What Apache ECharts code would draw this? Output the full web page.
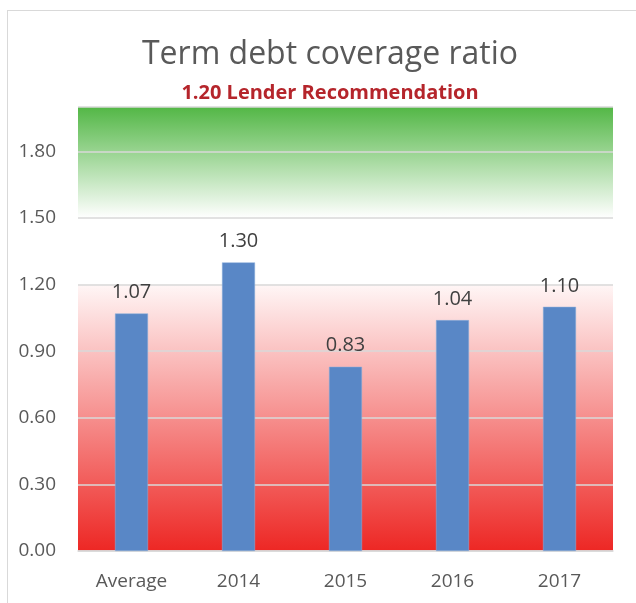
<!DOCTYPE html>
<html>
<head>
<meta charset="utf-8">
<script src="https://cdn.jsdelivr.net/npm/echarts@6/dist/echarts.min.js"></script>
<style>
  html, body { margin: 0; padding: 0; background: #fff; }
  #frame { position: absolute; left: 7px; top: 10px; width: 700px; height: 700px; border: 1px solid #d9d9d9; }
  #chart { position: absolute; left: 0; top: 0; width: 636px; height: 603px; }
</style>
</head>
<body>
<div id="frame"></div>
<div id="chart"></div>
<script>
const categories = ["Average", "2014", "2015", "2016", "2017"];
const ratios = [1.07, 1.30, 0.83, 1.04, 1.10];
const greenZone = [1.5, 2.0];
const redZone = [0, 1.2];

const font = "'Open Sans', 'Liberation Sans', sans-serif";

const option = {
  animation: false,
  title: {
    text: "Term debt coverage ratio",
    subtext: "1.20 Lender Recommendation",
    left: 325,
    textAlign: "center",
    top: 34,
    itemGap: 12,
    textStyle: { fontFamily: font, fontSize: 32, fontWeight: "normal", color: "#595959" },
    subtextStyle: { fontFamily: font, fontSize: 20, fontWeight: "bold", color: "#b5252b" },
  },
  grid: { left: 78, right: 23, top: 107, bottom: 52, containLabel: false },
  xAxis: {
    type: "category",
    data: categories,
    axisTick: { show: false },
    axisLine: { lineStyle: { color: "#d9d9d9", width: 1.5 } },
    axisLabel: { fontFamily: font, fontSize: 19, color: "#595959", margin: 21 },
  },
  yAxis: {
    type: "value",
    min: 0,
    max: 2.0,
    interval: 0.3,
    axisLabel: {
      fontFamily: font, fontSize: 19, color: "#595959", margin: 22,
      showMaxLabel: false,
      formatter: (v) => v.toFixed(2),
    },
    splitLine: { lineStyle: { color: "#d9d9d9", width: 1.5 } },
  },
  series: [
    {
      type: "bar",
      data: ratios,
      barWidth: 33,
      itemStyle: { color: "#5987c6", borderColor: "#8fb0dc", borderWidth: 0.5 },
      label: {
        show: true,
        position: "top",
        distance: 11,
        fontFamily: font,
        fontSize: 20,
        color: "#404040",
        formatter: (p) => p.value.toFixed(2),
      },
      markArea: {
        silent: true,
        z: -1,
        data: [
          [
            {
              yAxis: greenZone[1],
              itemStyle: {
                color: new echarts.graphic.LinearGradient(0, 0, 0, 1, [
                  { offset: 0, color: "#53b746" },
                  { offset: 1, color: "#ffffff" },
                ]),
              },
            },
            { yAxis: greenZone[0] },
          ],
          [
            {
              yAxis: redZone[1],
              itemStyle: {
                color: new echarts.graphic.LinearGradient(0, 0, 0, 1, [
                  { offset: 0, color: "#fff6f6" },
                  { offset: 1, color: "#ed2724" },
                ]),
              },
            },
            { yAxis: redZone[0] },
          ],
        ],
      },
    },
  ],
};

const chart = echarts.init(document.getElementById("chart"));
chart.setOption(option);
</script>
</body>
</html>
